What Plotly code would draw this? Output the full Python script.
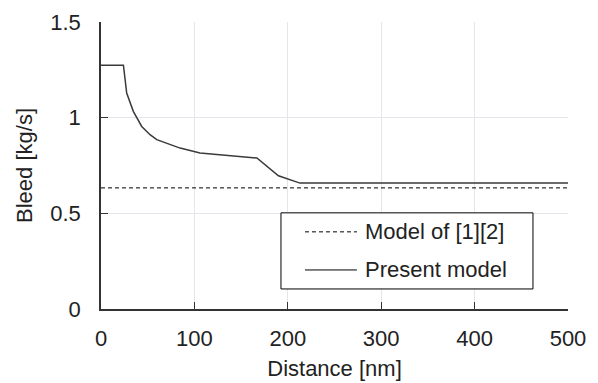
import plotly.graph_objects as go

# Data
distance_present = [0, 24, 27.5, 34.6, 43.6, 52.5, 59.7, 84.7, 106, 134.7, 166.9, 190, 213, 500]
bleed_present = [1.274, 1.274, 1.129, 1.033, 0.954, 0.911, 0.885, 0.841, 0.815, 0.801, 0.789, 0.696, 0.658, 0.658]

distance_ref = [0, 500]
bleed_ref = [0.633, 0.633]

legend_labels = ["Model of [1][2]", "Present model"]

FONT = "Liberation Sans, Arial, sans-serif"
TXT = "#222222"

fig = go.Figure()
fig.add_trace(go.Scatter(x=distance_ref, y=bleed_ref, mode="lines",
                         line=dict(color="#000000", width=1, dash="4px,3px"),
                         name=legend_labels[0], showlegend=False))
fig.add_trace(go.Scatter(x=distance_present, y=bleed_present, mode="lines",
                         line=dict(color="#3a3a3a", width=1.5),
                         name=legend_labels[1], showlegend=False))

# Manual legend (box, samples, labels) in paper coordinates
fig.add_shape(type="rect", xref="paper", yref="paper", x0=0.3854, x1=0.925, y0=0.0698, y1=0.335,
              line=dict(color="#000000", width=1), fillcolor="white", layer="above")
rows = [0.2688, 0.136]
dashes = ["4px,3px", "solid"]
for lbl, yy, dsh in zip(legend_labels, rows, dashes):
    fig.add_shape(type="line", xref="paper", yref="paper", x0=0.4368, x1=0.548, y0=yy, y1=yy,
                  line=dict(color="#000000", width=1, dash=dsh), layer="above")
    fig.add_annotation(text=lbl, xref="paper", yref="paper", x=0.561, y=yy, xanchor="left",
                       yanchor="middle", showarrow=False, font=dict(family=FONT, size=22, color=TXT))

axis_common = dict(showgrid=True, gridcolor="#e4e6ee", gridwidth=1, zeroline=False,
                   showline=True, linecolor="#333333", linewidth=1.5, automargin=False,
                   ticks="inside", ticklen=7, tickcolor="#333333", tickwidth=1,
                   tickfont=dict(family=FONT, size=22, color=TXT))

fig.update_xaxes(range=[0, 500], tickvals=[0, 100, 200, 300, 400, 500],
                 title=dict(text="Distance [nm]", font=dict(family=FONT, size=22, color=TXT), standoff=10),
                 ticklabelstandoff=9, **axis_common)
fig.update_yaxes(range=[0, 1.5], tickvals=[0, 0.5, 1, 1.5], ticktext=["0", "0.5", "1", "1.5"],
                 title=dict(text="Bleed [kg/s]", font=dict(family=FONT, size=22, color=TXT), standoff=12),
                 ticklabelstandoff=14, **axis_common)

fig.update_layout(width=598, height=383, margin=dict(l=101, r=30, t=22, b=74, pad=0),
                  plot_bgcolor="white", paper_bgcolor="white", showlegend=False)

fig.write_html("out.html")
